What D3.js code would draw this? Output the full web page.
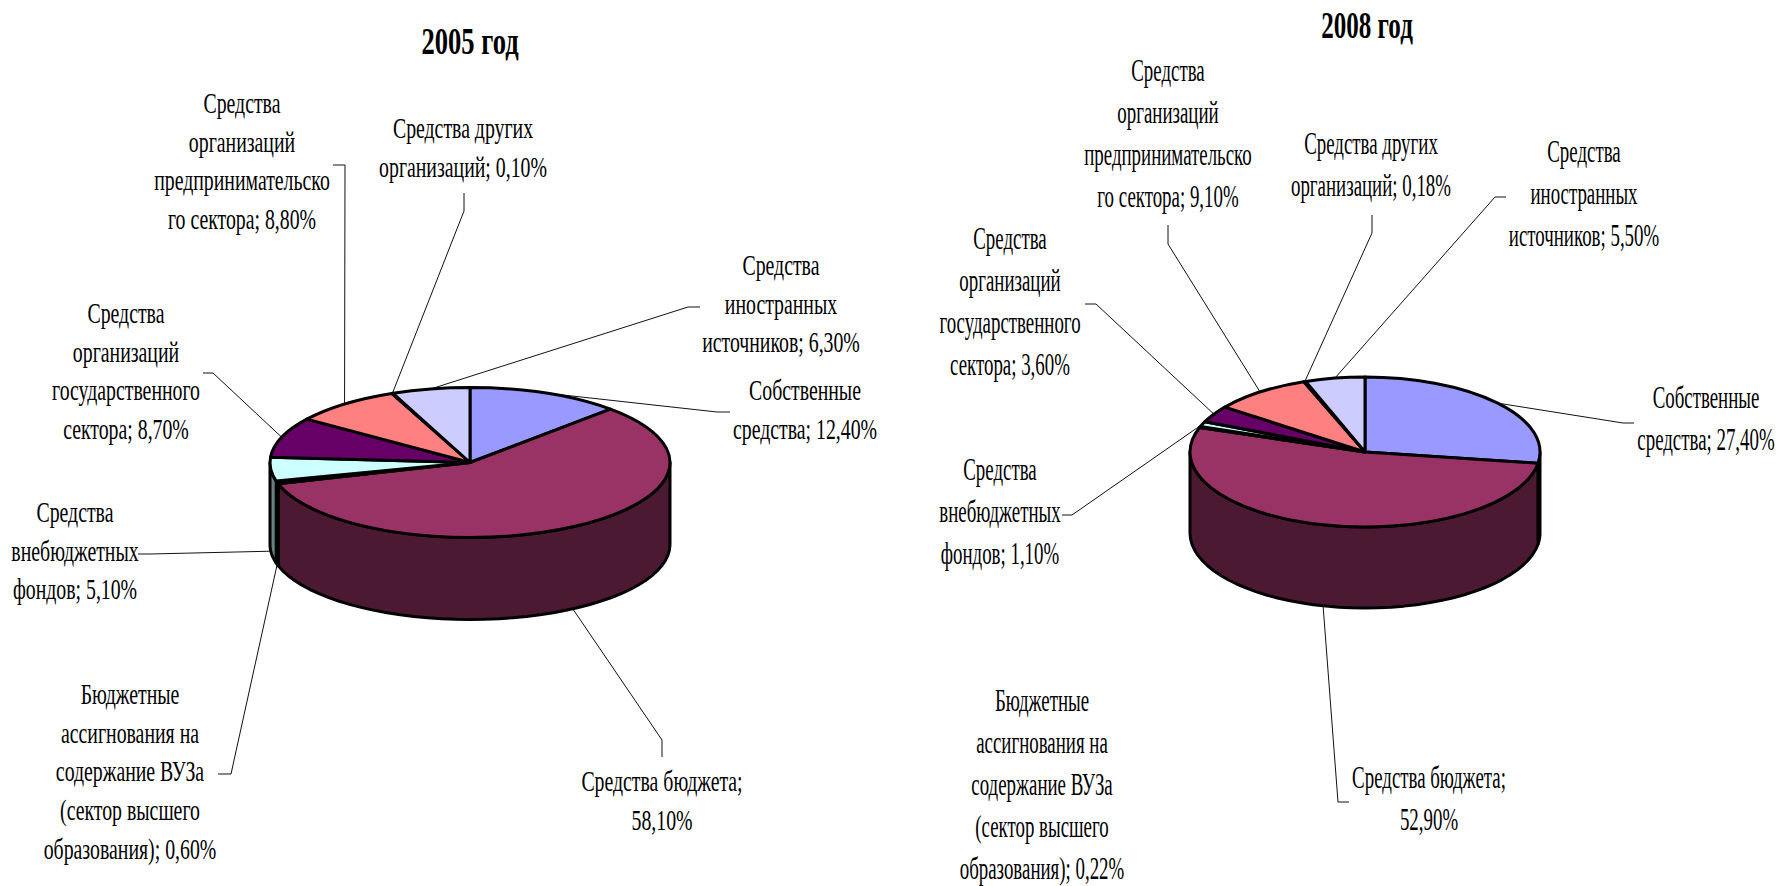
<!DOCTYPE html>
<html>
<head>
<meta charset="utf-8">
<script src="https://cdn.jsdelivr.net/npm/d3@7"></script>
<style>
  html, body { margin: 0; padding: 0; background: #fff; }
  text { font-family: "Liberation Serif", serif; fill: #000; }
</style>
</head>
<body>
<svg id="chart" width="1777" height="886"></svg>
<script>
// {v} is replaced by the formatted value, | breaks the line
const categories = [
  "Собственные|средства; {v}",
  "Средства бюджета;|{v}",
  "Бюджетные|ассигнования на|содержание ВУЗа|(сектор высшего|образования); {v}",
  "Средства|внебюджетных|фондов; {v}",
  "Средства|организаций|государственного|сектора; {v}",
  "Средства|организаций|предпринимательско|го сектора; {v}",
  "Средства других|организаций; {v}",
  "Средства|иностранных|источников; {v}"
];
const values2005 = [12.4, 58.1, 0.6, 5.1, 8.7, 8.8, 0.1, 6.3];
const values2008 = [27.4, 52.9, 0.22, 1.1, 3.6, 9.1, 0.18, 5.5];
const colors = ["#9999ff", "#993366", "#ffffcc", "#ccffff", "#660066", "#ff8080", "#0066cc", "#ccccff"];

// label centre, first baseline, leader points from the label side
const layout2005 = [
  { x: 805, y: 400, leader: [[730, 412], [717, 412]] },
  { x: 662, y: 791, leader: [[662, 757], [662, 740]] },
  { x: 130, y: 704, leader: [[218, 774], [231, 774]] },
  { x: 75, y: 522, leader: [[138, 554], [150, 554]] },
  { x: 126, y: 323, leader: [[203, 373], [213, 373]] },
  { x: 242, y: 113, leader: [[333, 165], [345, 165]] },
  { x: 463, y: 138, leader: [[464, 193], [464, 211]] },
  { x: 781, y: 275, leader: [[700, 307], [688, 307]] }
];
const layout2008 = [
  { x: 1706, y: 408, leader: [[1634, 423], [1623, 423]] },
  { x: 1429, y: 788, leader: [[1349, 802], [1338, 802]] },
  { x: 1042, y: 711, leader: null },
  { x: 1000, y: 480, leader: [[1062, 515], [1072, 515]] },
  { x: 1010, y: 249, leader: [[1085, 304], [1096, 304]] },
  { x: 1168, y: 81, leader: [[1168, 225], [1168, 244]] },
  { x: 1371, y: 154, leader: [[1372, 215], [1372, 233]] },
  { x: 1584, y: 162, leader: [[1506, 197], [1495, 197]] }
];

const formatValue = (v) => v.toFixed(2).replace(".", ",") + "%";

function drawPie(svg, { title, values, layout, cx, cy, rx, ry, depth, fontSize, textScale, lineGap, titleX, titleY, titleScale }) {
  const slices = d3.pie().sort(null).value((d) => d)(values);
  const arc = d3.arc().innerRadius(0).outerRadius(rx);
  const point = (a, dy = 0) => [cx + rx * Math.sin(a), cy - ry * Math.cos(a) + dy];

  const g = svg.append("g");

  // leaders go under the pie, they end on the rim in the middle of the slice
  g.selectAll(".leader")
    .data(slices.filter((d, i) => layout[i].leader))
    .join("path")
    .attr("class", "leader")
    .attr("fill", "none")
    .attr("stroke", "#111")
    .attr("stroke-width", 1)
    .attr("d", (d) => {
      const mid = (d.startAngle + d.endAngle) / 2;
      const front = Math.cos(mid) < 0;
      return d3.line()([...layout[d.index].leader, point(mid, front ? depth : 0)]);
    });

  // walls, only the part of a slice that faces the viewer
  const wall = (d) => {
    const from = Math.max(d.startAngle, Math.PI / 2);
    const to = Math.min(d.endAngle, Math.PI * 1.5);
    if (from >= to) return null;
    const angles = d3.range(0, 41).map((i) => from + ((to - from) * i) / 40);
    const top = angles.map((a) => point(a));
    const bottom = angles.map((a) => point(a, depth)).reverse();
    return d3.line()([...top, ...bottom]) + "Z";
  };

  g.selectAll(".wall")
    .data(slices.filter((d) => wall(d)))
    .join("path")
    .attr("class", "wall")
    .attr("fill", (d) => d3.rgb(colors[d.index]).darker(1.95))
    .attr("stroke", "#000")
    .attr("stroke-width", 3)
    .attr("stroke-linejoin", "round")
    .attr("d", wall);

  const top = g.append("g").attr("transform", `translate(${cx}, ${cy}) scale(1, ${ry / rx})`);

  top.selectAll(".slice")
    .data(slices)
    .join("path")
    .attr("class", "slice")
    .attr("fill", (d) => colors[d.index])
    .attr("stroke", "#000")
    .attr("stroke-width", 3)
    .attr("stroke-linejoin", "round")
    .attr("vector-effect", "non-scaling-stroke")
    .attr("d", arc);

  const labels = g.selectAll(".label")
    .data(slices)
    .join("text")
    .attr("class", "label")
    .attr("text-anchor", "middle")
    .attr("font-size", fontSize)
    .attr("transform", (d) => `translate(${layout[d.index].x}, ${layout[d.index].y}) scale(${textScale}, 1)`);

  labels.selectAll("tspan")
    .data((d) => categories[d.index].replace("{v}", formatValue(d.data)).split("|"))
    .join("tspan")
    .attr("x", 0)
    .attr("y", (d, i) => i * lineGap)
    .text((d) => d);

  g.append("text")
    .attr("text-anchor", "middle")
    .attr("font-size", 38)
    .attr("font-weight", "bold")
    .attr("transform", `translate(${titleX}, ${titleY}) scale(${titleScale}, 1)`)
    .text(title);
}

const svg = d3.select("#chart");

drawPie(svg, {
  title: "2005 год", values: values2005, layout: layout2005,
  cx: 470, cy: 462.5, rx: 200, ry: 75, depth: 82,
  fontSize: 30, textScale: 0.66, lineGap: 38.7,
  titleX: 470, titleY: 54, titleScale: 0.7
});

drawPie(svg, {
  title: "2008 год", values: values2008, layout: layout2008,
  cx: 1365, cy: 452, rx: 175, ry: 75, depth: 81,
  fontSize: 32, textScale: 0.59, lineGap: 42,
  titleX: 1367, titleY: 38, titleScale: 0.66
});
</script>
</body>
</html>
